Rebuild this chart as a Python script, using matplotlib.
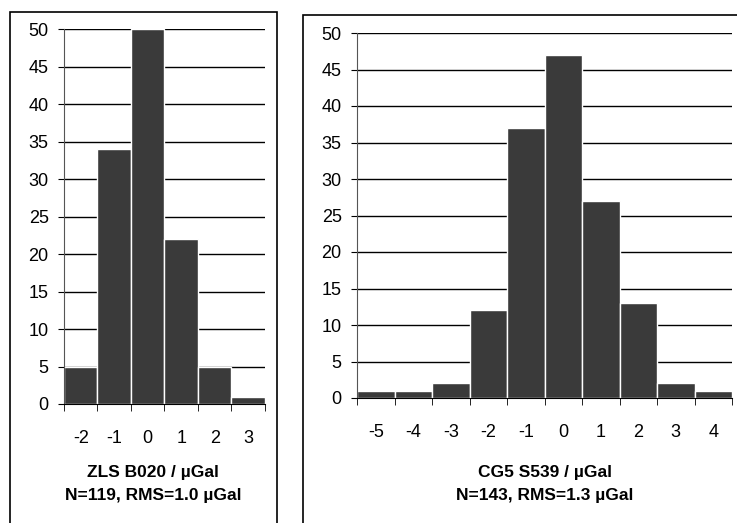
import matplotlib.pyplot as plt
from matplotlib.patches import Rectangle

plt.rcParams['font.family'] = ['Liberation Sans', 'DejaVu Sans']

# ZLS B020 histogram
zls_bins = [-2, -1, 0, 1, 2, 3]
zls_counts = [5, 34, 50, 22, 5, 1]
zls_label = "ZLS B020 / µGal\nN=119, RMS=1.0 µGal"

# CG5 S539 histogram
cg5_bins = [-5, -4, -3, -2, -1, 0, 1, 2, 3, 4]
cg5_counts = [1, 1, 2, 12, 37, 47, 27, 13, 2, 1]
cg5_label = "CG5 S539 / µGal\nN=143, RMS=1.3 µGal"

W, H = 737, 523
fig = plt.figure(figsize=(W / 100, H / 100), dpi=100)


def px_axes(x0, y0, x1, y1):
    # pixel box (top-left origin) -> figure fraction
    return fig.add_axes([x0 / W, 1 - y1 / H, (x1 - x0) / W, (y1 - y0) / H])


def panel_box(x0, y0, x1):
    fig.patches.append(Rectangle((x0 / W, -0.05), (x1 - x0) / W, 1.05 - y0 / H,
                                 transform=fig.transFigure, fill=False,
                                 edgecolor='black', lw=1.2))


def draw(ax, bins, counts, label, cx):
    ax.bar(bins, counts, width=1.0, color='#3a3a3a', edgecolor='white',
           linewidth=1.0, zorder=2)
    ax.set_xlim(bins[0] - 0.5, bins[-1] + 0.5)
    ax.set_ylim(0, 50)
    ax.set_yticks(range(0, 51, 5))
    ax.yaxis.grid(True, color='black', lw=1.0, zorder=0)
    ax.set_axisbelow(True)
    for s in ['top', 'right']:
        ax.spines[s].set_visible(False)
    ax.spines['left'].set_color('#555555')
    ax.spines['bottom'].set_color('black')
    ax.set_xticks(bins)
    ax.set_xticklabels([str(b) for b in bins])
    ax.set_xticks([b - 0.5 for b in bins] + [bins[-1] + 0.5], minor=True)
    ax.tick_params(axis='x', which='major', length=0, pad=19, labelsize=13)
    ax.tick_params(axis='x', which='minor', length=5, direction='out')
    ax.tick_params(axis='y', length=4, pad=7, labelsize=13)
    ax.set_facecolor('white')
    fig.text(cx / W, 1 - 484 / H, label, ha='center', va='center',
             fontsize=12.5, fontweight='bold', linespacing=1.65)


panel_box(10, 12, 277)
panel_box(303, 15, 745)

ax1 = px_axes(64, 29, 265, 404)
draw(ax1, zls_bins, zls_counts, zls_label, 153)

ax2 = px_axes(357, 33, 732, 398)
draw(ax2, cg5_bins, cg5_counts, cg5_label, 545)

fig.savefig('out.png', dpi=100)
